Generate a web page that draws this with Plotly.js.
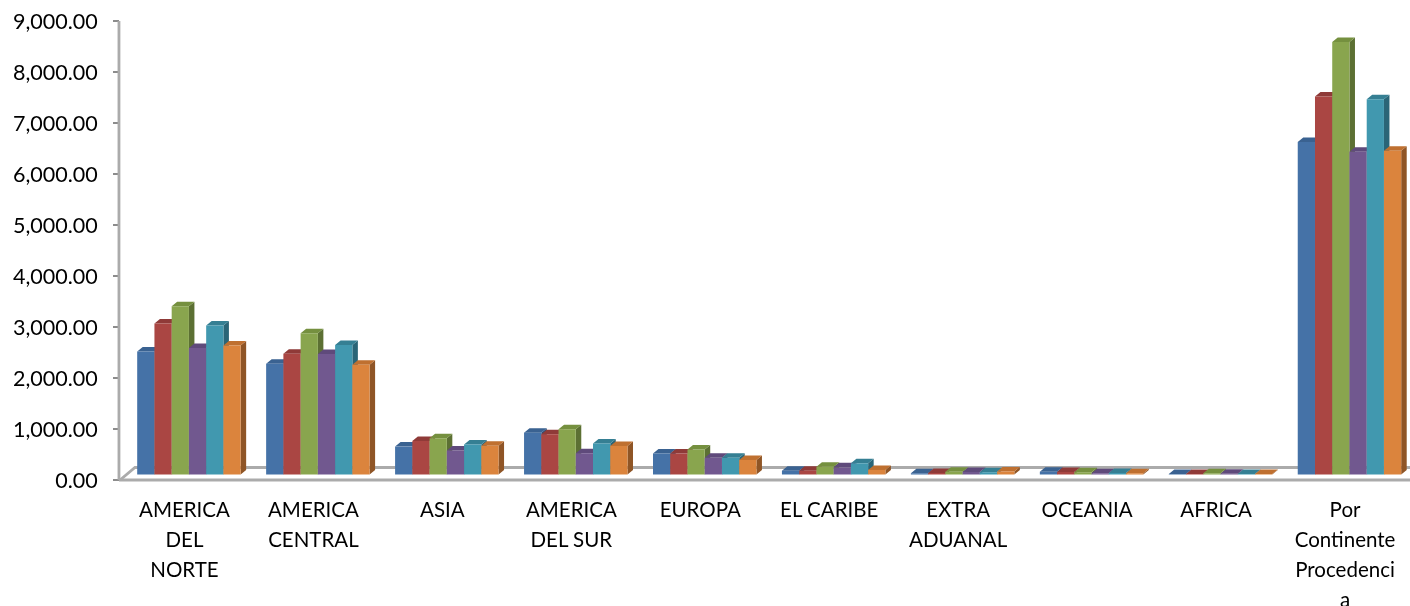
<!DOCTYPE html>
<html><head><meta charset="utf-8">
<script src="https://cdn.plot.ly/plotly-3.0.1.min.js"></script>
<style>html,body{margin:0;padding:0;background:#fff}#c{width:1410px;height:606px;filter:blur(0.45px)}</style>
</head><body><div id="c"></div>
<script>
const labelLines = [
  ['AMERICA','DEL','NORTE'],['AMERICA','CENTRAL'],['ASIA'],['AMERICA','DEL SUR'],['EUROPA'],
  ['EL CARIBE'],['EXTRA','ADUANAL'],['OCEANIA'],['AFRICA'],['Por','Continente','Procedenci','a']
];
const serie1 = [2413,2170,547,821,412,75,25,55,10,6520];
const serie2 = [2960,2370,658,790,412,75,30,50,12,7410];
const serie3 = [3300,2770,711,888,491,153,55,45,25,8480];
const serie4 = [2480,2365,472,417,328,140,50,25,15,6330];
const serie5 = [2920,2540,589,609,328,220,45,30,12,7360];
const serie6 = [2530,2150,563,560,285,90,60,25,10,6350];
const seriesValues = [serie1,serie2,serie3,serie4,serie5,serie6];
const frontColors = ['#4572A7','#AA4643','#89A54E','#71588F','#4198AF','#DB843D'];
const topColors   = ['#3A6291','#8F3A38','#75903F','#5F4A7B','#357F93','#BF7030'];
const sideColors  = ['#2E4E75','#722E2C','#5C7033','#4A3A60','#2A6577','#8F5526'];

const pxX = 129, pxY = 459/9000;            // pixels per x unit / per y unit
const depthX = 5.5/pxX, depthY = 4.5/pxY;   // 3D depth
const baseY = 5.5/pxY;                      // front base above the floor edge
const barW = 17.25/pxX, groupLeft = -47.3/pxX;
const cats = labelLines.map((_,i)=>i);
const xEnd = (1410-184)/pxX;
const axisGray = '#ABABAB';

const traces = [];
// floor back edge with its diagonal
traces.push({type:'scatter',mode:'lines',x:[-0.5,-0.5+15/pxX,xEnd],y:[0,12.5/pxY,12.5/pxY],
  line:{color:axisGray,width:2.8},hoverinfo:'skip',showlegend:false,zorder:0});

seriesValues.forEach((vals,s)=>{
  const sx=[],sy=[],tx=[],ty=[];
  vals.forEach((v,i)=>{
    const x0=i+groupLeft+s*barW, x1=x0+barW, yb=baseY, yt=baseY+v;
    sx.push(x1,x1+depthX,x1+depthX,x1,x1,null);
    sy.push(yb,yb+depthY,yt+depthY,yt,yb,null);
    tx.push(x0,x0+depthX,x1+depthX,x1,x0,null);
    ty.push(yt,yt+depthY,yt+depthY,yt,yt,null);
  });
  traces.push({type:'scatter',mode:'none',fill:'toself',x:sx,y:sy,fillcolor:sideColors[s],
    hoverinfo:'skip',showlegend:false,zorder:1+s*2});
  traces.push({type:'scatter',mode:'none',fill:'toself',x:tx,y:ty,fillcolor:topColors[s],
    hoverinfo:'skip',showlegend:false,zorder:1+s*2});
  traces.push({type:'bar',x:cats,y:vals,base:baseY,width:barW,offset:groupLeft+s*barW,
    marker:{color:frontColors[s],line:{width:0}},showlegend:false,zorder:2+s*2});
});

const tickText = labelLines.map(l=>l.map(t=>'<span style="font-size:20.5px">'+t+'</span>').join('<br>'));

Plotly.newPlot('c',traces,{
  width:1410,height:606,paper_bgcolor:'#fff',plot_bgcolor:'#fff',showlegend:false,
  margin:{l:119.5,r:0,t:21,b:126,pad:0},
  font:{family:'Lato, Carlito, sans-serif',color:'#000'},
  barmode:'overlay',
  shapes:[
    {type:'line',xref:'paper',yref:'paper',x0:-0.0008,x1:-0.0008,y0:0,y1:1,line:{color:axisGray,width:2.8},layer:'above'},
    {type:'line',xref:'paper',yref:'paper',x0:-0.0008,x1:1,y0:0,y1:0,line:{color:axisGray,width:2.8},layer:'above'}
  ],
  xaxis:{type:'linear',range:[-0.5,xEnd],tickmode:'array',tickvals:cats,ticktext:tickText,
    tickangle:0,showgrid:false,zeroline:false,ticks:'',showline:false,
    tickfont:{family:'Lato, Carlito, sans-serif',size:23,color:'#000'},ticklabelstandoff:13},
  yaxis:{range:[0,9000],tickmode:'linear',tick0:0,dtick:1000,tickformat:',.2f',showgrid:false,zeroline:false,
    ticks:'outside',ticklen:6,tickwidth:1.5,tickcolor:'#8C8C8C',showline:false,
    tickfont:{family:'Lato, Carlito, sans-serif',size:21.5,color:'#000'},ticklabelstandoff:11}
},{staticPlot:true,displayModeBar:false});
</script></body></html>
